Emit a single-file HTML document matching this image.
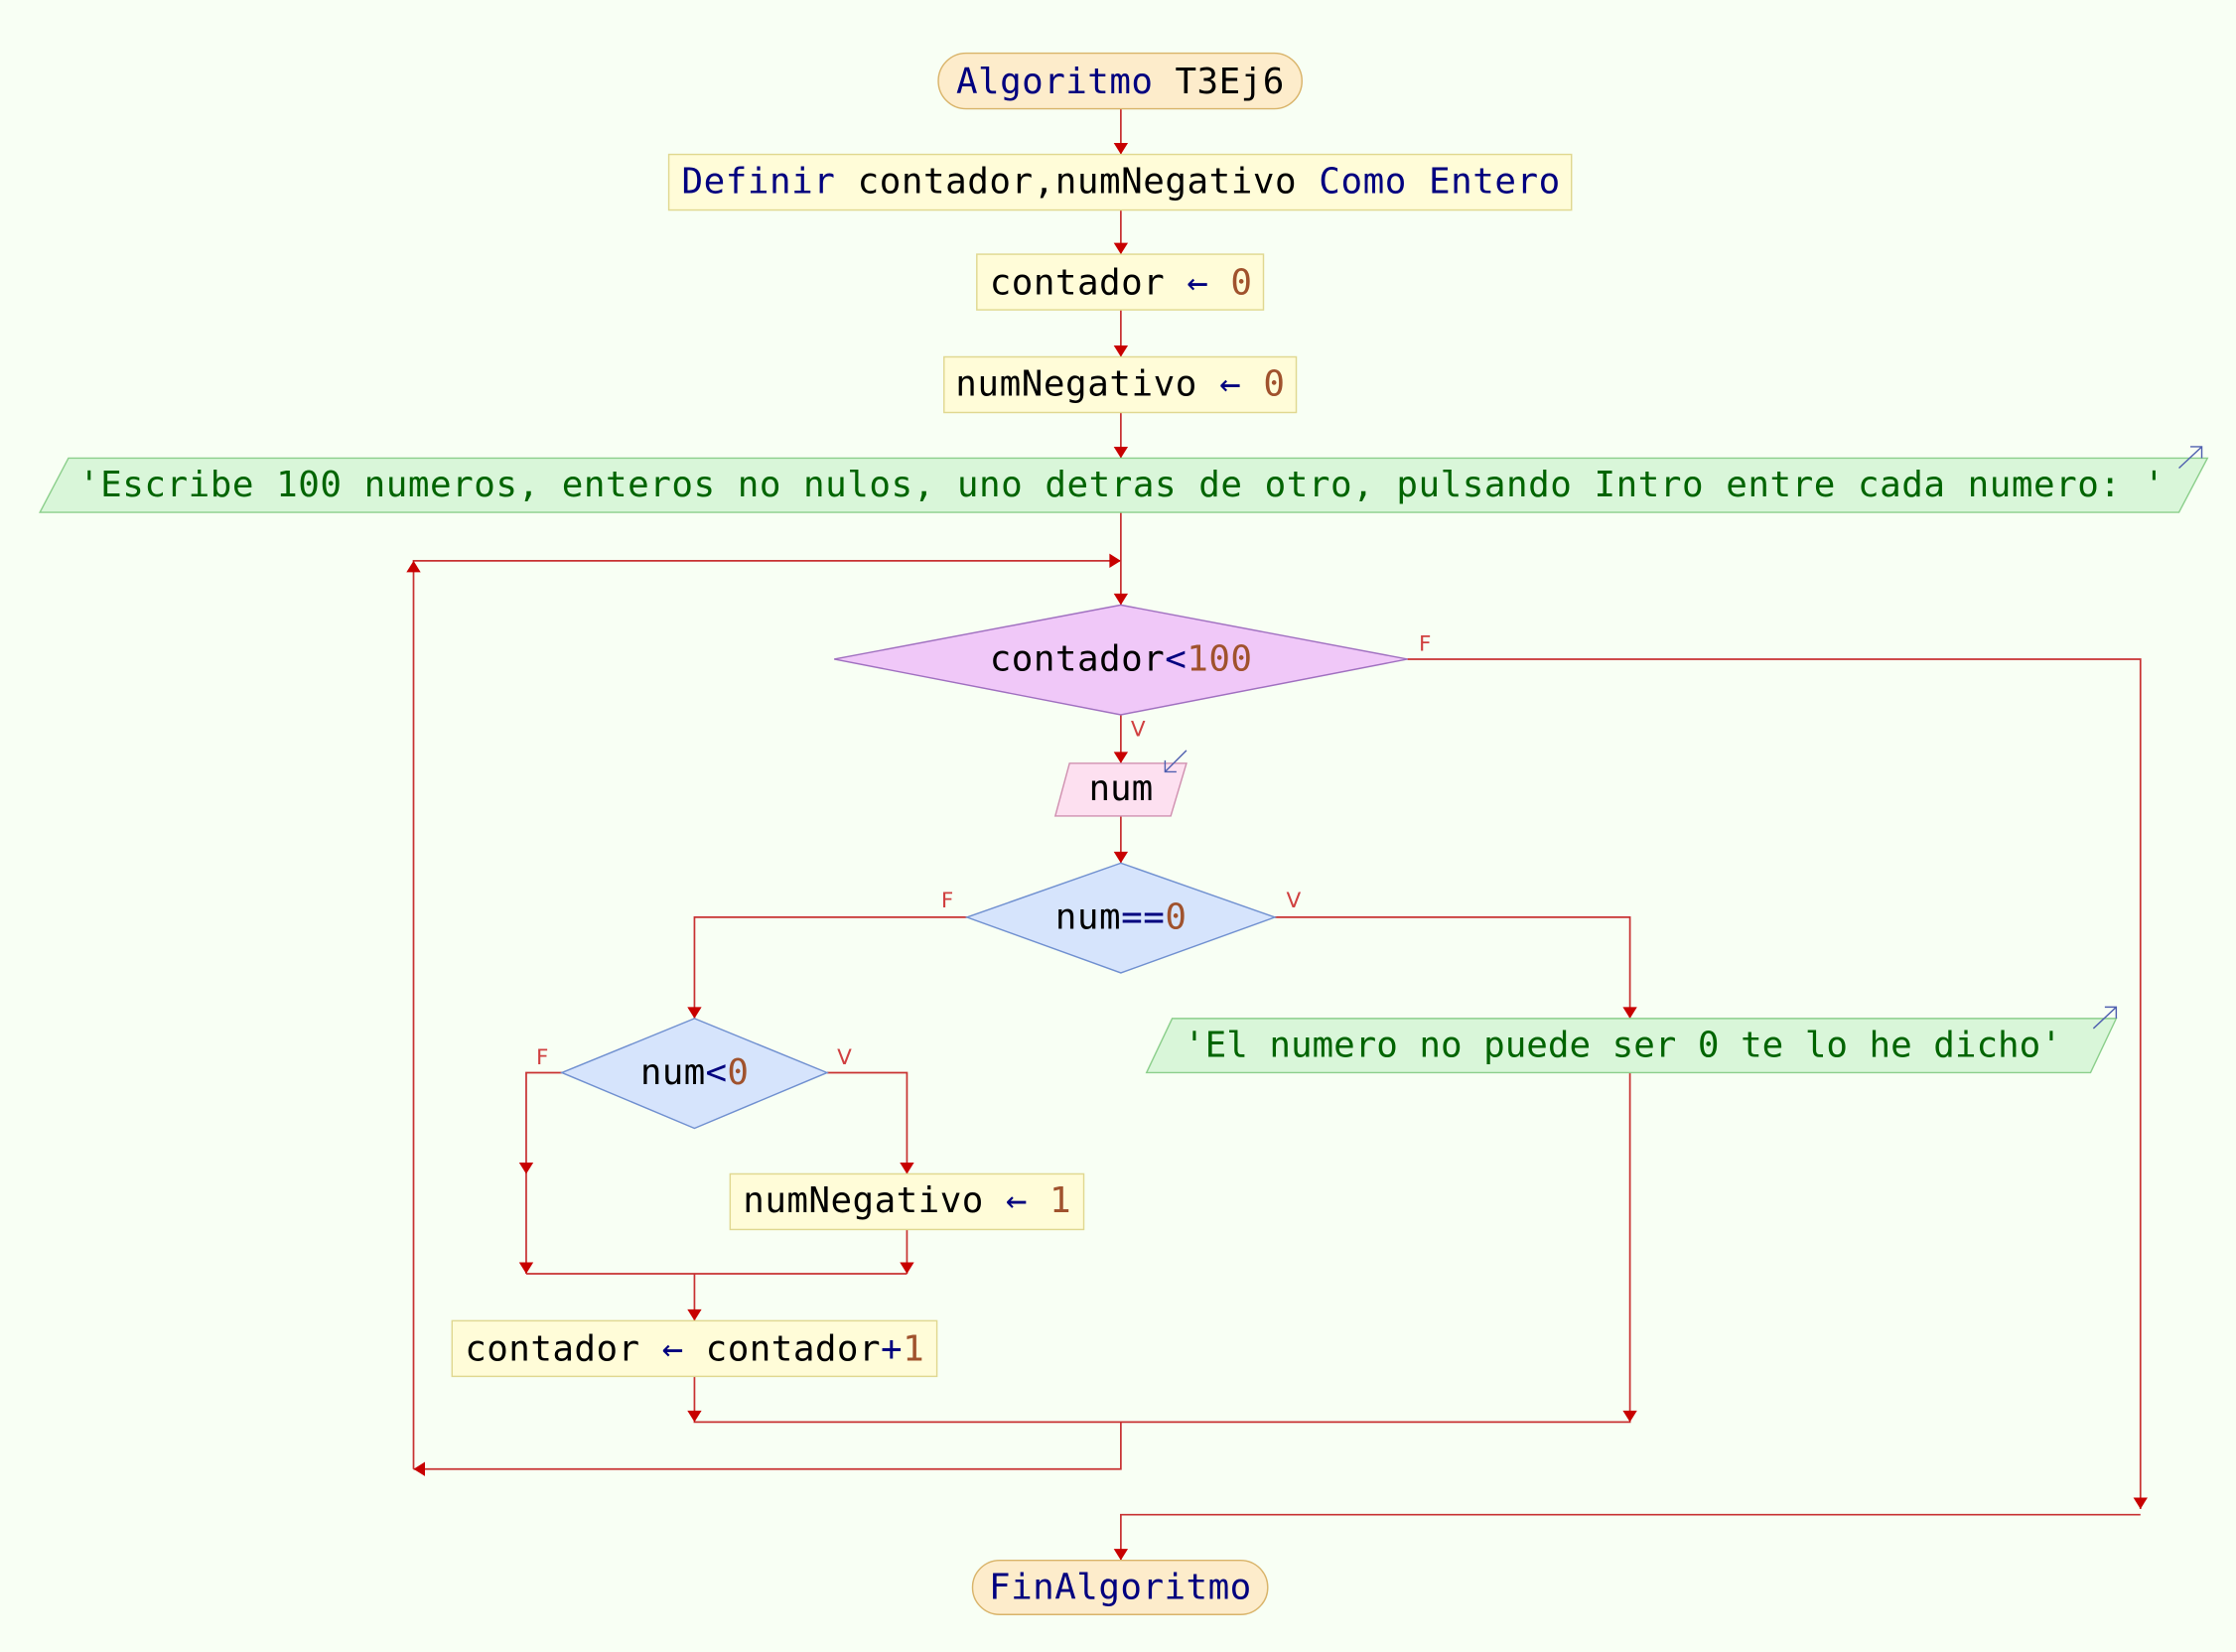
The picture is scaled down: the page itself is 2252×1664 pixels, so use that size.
<!DOCTYPE html>
<html><head><meta charset="utf-8"><style>
html,body{margin:0;padding:0;background:#f8fff4;}
svg{display:block;}
text{font-family:"DejaVu Sans Mono","Liberation Mono",monospace;font-size:25px;}
.k{fill:#00007f}.v{fill:#000}.n{fill:#a0522d}.s{fill:#006400}
.l{font-size:15px;fill:#d04040;font-family:"DejaVu Sans","Liberation Sans",sans-serif}
.c{stroke:#c83232;stroke-width:1.2;fill:none}
.a{fill:#c80000}
</style></head><body>
<svg width="2252" height="1664" viewBox="0 0 1568 1158" xmlns="http://www.w3.org/2000/svg">
<rect width="1568" height="1158" fill="#f8fff4"/>
<defs>
<marker id="ad" viewBox="0 0 10 10" refX="5" refY="10" markerWidth="10" markerHeight="10" markerUnits="userSpaceOnUse" orient="auto-start-reverse"><path d="M0,0 L10,0 L5,10 z" fill="#c80000"/></marker>
</defs>
<!-- connectors -->
<g class="c">
<path d="M786,76V108"/><path d="M786,147V178"/><path d="M786,217V250"/><path d="M786,289V321"/>
<path d="M786,359V424"/>
<path d="M290,1030V393H786"/>
<path d="M987,462H1501V1058"/>
<path d="M786,501V535"/><path d="M786,572V605"/>
<path d="M678,643H487V714"/><path d="M894,643H1143V714"/>
<path d="M394,752H369V893"/><path d="M580,752H636V823"/><path d="M636,862V893"/>
<path d="M369,893H636"/><path d="M487,893V926"/>
<path d="M487,965V997H1143V752"/>
<path d="M786,997V1030H290"/>
<path d="M786,1094V1062H1501"/>
</g>
<g class="a">
<path d="M781,100h10l-5,8z"/><path d="M781,170h10l-5,8z"/><path d="M781,242h10l-5,8z"/><path d="M781,313h10l-5,8z"/>
<path d="M781,416h10l-5,8z"/>
<path d="M778,388v10l8,-5z"/>
<path d="M285,401h10l-5,-8z"/>
<path d="M1496,1050h10l-5,8z"/>
<path d="M781,527h10l-5,8z"/><path d="M781,597h10l-5,8z"/>
<path d="M482,706h10l-5,8z"/><path d="M1138,706h10l-5,8z"/>
<path d="M364,815h10l-5,8z"/><path d="M631,815h10l-5,8z"/>
<path d="M364,885h10l-5,8z"/><path d="M631,885h10l-5,8z"/>
<path d="M482,918h10l-5,8z"/>
<path d="M482,989h10l-5,8z"/><path d="M1138,989h10l-5,8z"/>
<path d="M298,1025v10l-8,-5z"/>
<path d="M781,1086h10l-5,8z"/>
</g>
<!-- shapes -->
<rect x="658" y="37" width="255" height="39" rx="19.5" fill="#fdeccb" stroke="#d9b46a"/>
<text x="785.5" y="65" text-anchor="middle" textLength="230" class="k">Algoritmo <tspan class="v">T3Ej6</tspan></text>

<rect x="469" y="108" width="633" height="39" fill="#fffcd8" stroke="#e0d890"/>
<text x="478" y="135" textLength="616"><tspan class="k">Definir</tspan><tspan class="v"> contador,numNegativo </tspan><tspan class="k">Como Entero</tspan></text>

<rect x="685" y="178" width="201" height="39" fill="#fffcd8" stroke="#e0d890"/>
<text x="694" y="206" textLength="184"><tspan class="v">contador </tspan><tspan class="k">←</tspan><tspan class="n"> 0</tspan></text>

<rect x="662" y="250" width="247" height="39" fill="#fffcd8" stroke="#e0d890"/>
<text x="670" y="277" textLength="231"><tspan class="v">numNegativo </tspan><tspan class="k">←</tspan><tspan class="n"> 0</tspan></text>

<polygon points="48,321 1548,321 1528,359 28,359" fill="#d9f6d9" stroke="#8ccf8c"/>
<text x="55" y="348" textLength="1463" class="s">'Escribe 100 numeros, enteros no nulos, uno detras de otro, pulsando Intro entre cada numero: '</text>
<path d="M1528,328 L1544,313 M1536,313 H1544 V321" stroke="#5060b0" fill="none" stroke-width="1"/>

<polygon points="585,462 786,424 987,462 786,501" fill="#f0c8f8" stroke="#a070c0"/>
<text x="786" y="470" text-anchor="middle" textLength="184"><tspan class="v">contador</tspan><tspan class="k">&lt;</tspan><tspan class="n">100</tspan></text>
<text x="995" y="456" class="l">F</text>
<text x="793" y="516" class="l">V</text>

<polygon points="750,535 832,535 821,572 740,572" fill="#fde0f0" stroke="#d090b0"/>
<text x="786" y="561" text-anchor="middle" class="v">num</text>
<path d="M832,526 L817,541 M817,533 V541 H825" stroke="#5060b0" fill="none" stroke-width="1"/>

<polygon points="678,643 786,605 894,643 786,682" fill="#d6e4fc" stroke="#7090d0"/>
<text x="786" y="651" text-anchor="middle" textLength="92"><tspan class="v">num</tspan><tspan class="k">==</tspan><tspan class="n">0</tspan></text>
<text x="660" y="636" class="l">F</text>
<text x="902" y="636" class="l">V</text>

<polygon points="822,714 1484,714 1466,752 804,752" fill="#d9f6d9" stroke="#8ccf8c"/>
<text x="830" y="741" textLength="616" class="s">'El numero no puede ser 0 te lo he dicho'</text>
<path d="M1468,721 L1484,706 M1476,706 H1484 V714" stroke="#5060b0" fill="none" stroke-width="1"/>

<polygon points="394,752 487,714 580,752 487,791" fill="#d6e4fc" stroke="#7090d0"/>
<text x="487" y="760" text-anchor="middle" textLength="76"><tspan class="v">num</tspan><tspan class="k">&lt;</tspan><tspan class="n">0</tspan></text>
<text x="376" y="746" class="l">F</text>
<text x="587" y="746" class="l">V</text>

<rect x="512" y="823" width="248" height="39" fill="#fffcd8" stroke="#e0d890"/>
<text x="521" y="850" textLength="230"><tspan class="v">numNegativo </tspan><tspan class="k">←</tspan><tspan class="n"> 1</tspan></text>

<rect x="317" y="926" width="340" height="39" fill="#fffcd8" stroke="#e0d890"/>
<text x="326" y="954" textLength="322"><tspan class="v">contador </tspan><tspan class="k">←</tspan><tspan class="v"> contador</tspan><tspan class="k">+</tspan><tspan class="n">1</tspan></text>

<rect x="682" y="1094" width="207" height="38" rx="19" fill="#fdeccb" stroke="#d9b46a"/>
<text x="785.5" y="1121" text-anchor="middle" textLength="184" class="k">FinAlgoritmo</text>
</svg>
</body></html>
